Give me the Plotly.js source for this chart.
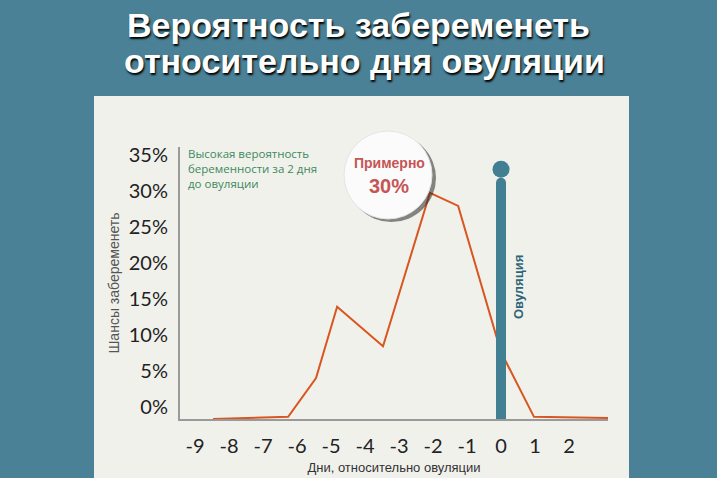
<!DOCTYPE html>
<html>
<head>
<meta charset="utf-8">
<script src="https://cdn.plot.ly/plotly-3.0.1.min.js"></script>
<style>html,body{margin:0;padding:0;background:#4a8196;}#chart{width:717px;height:478px;}</style>
</head>
<body>
<div id="chart"></div>
<script>
// Data (days relative to ovulation, chance of pregnancy in %)
const days = [-8.47, -6.26, -5.44, -4.82, -3.47, -2.09, -1.26, 0, 0.97, 3.15];
const chance = [0, 0.3, 5.7, 15.6, 10.1, 31.4, 29.6, 9.3, 0.3, 0.15];
const ovulationDay = [0, 0];
const ovulationBar = [0, 32.8];
const ovulationDot = [34.7];
const tickDays = [-9, -8, -7, -6, -5, -4, -3, -2, -1, 0, 1, 2];
const tickLabels = ['-9', '-8', '-7', '-6', '-5', '-4', '-3', '-2', '-1', '0', '1', '2'];
const yTicks = [0, 5, 10, 15, 20, 25, 30, 35];
const yTickLabels = ['0%', '5%', '10%', '15%', '20%', '25%', '30%', '35%'];

// plot area: left 180, right 608, top 147, bottom 419
const L = 180, R = 608, T = 147, B = 419, W = 717, H = 478;
const px = x => (x - L) / (R - L);
const py = y => (B - y) / (B - T);

const traces = [
  {x: days, y: chance, type: 'scatter', mode: 'lines',
   line: {color: '#d8561f', width: 2}, hoverinfo: 'skip'},
  {x: ovulationDay, y: ovulationBar, type: 'scatter', mode: 'lines',
   line: {color: '#437f93', width: 10}, hoverinfo: 'skip'},
  {x: [ovulationDay[1]], y: [ovulationBar[1]], type: 'scatter', mode: 'markers',
   marker: {color: '#437f93', size: 10}, hoverinfo: 'skip'},
  {x: [0], y: ovulationDot, type: 'scatter', mode: 'markers',
   marker: {color: '#437f93', size: 17}, hoverinfo: 'skip'}
];

const titleFont = {family: 'Liberation Sans, Arial', size: 34, color: '#ffffff', weight: 'bold',
                   shadow: '1px 2px 2px #000000'};

const layout = {
  width: W, height: H,
  paper_bgcolor: '#4a8196',
  plot_bgcolor: 'rgba(0,0,0,0)',
  margin: {l: L, r: W - R, t: T, b: H - B},
  showlegend: false,
  xaxis: {
    range: [(L - 501) / 34, (R - 501) / 34],
    tickmode: 'array', tickvals: tickDays, ticktext: tickLabels,
    showgrid: false, zeroline: false,
    showline: true, linecolor: '#9a9a9a', linewidth: 2,
    ticks: '', ticklabelstandoff: 8,
    tickfont: {family: 'Lato, Open Sans', size: 20, color: '#222222'},
    title: {text: 'Дни, относительно овуляции', standoff: 7,
            font: {family: 'Liberation Sans Narrow, Liberation Sans, Arial', size: 13, color: '#333333'}},
    fixedrange: true
  },
  yaxis: {
    range: [0, (B - T) / 7.2],
    tickmode: 'array', tickvals: yTicks, ticktext: yTickLabels,
    showgrid: false, zeroline: false,
    showline: true, linecolor: '#9a9a9a', linewidth: 2,
    ticks: '', ticklabelshift: -12, ticklabelstandoff: 6,
    tickfont: {family: 'Lato, Open Sans', size: 20, color: '#222222'},
    title: {text: 'Шансы забеременеть', standoff: 6,
            font: {family: 'Liberation Sans, Arial', size: 14, color: '#555555'}},
    fixedrange: true
  },
  shapes: [
    {type: 'rect', xref: 'paper', yref: 'paper', layer: 'below',
     x0: px(94), x1: px(629), y0: py(480), y1: py(96),
     fillcolor: '#f1f1ec', line: {width: 0}},
    {type: 'circle', xref: 'paper', yref: 'paper', layer: 'above',
     x0: px(347), x1: px(436), y0: py(222), y1: py(134),
     fillcolor: 'rgba(40,40,40,0.55)', line: {width: 0}},
    {type: 'circle', xref: 'paper', yref: 'paper', layer: 'above',
     x0: px(344), x1: px(432), y0: py(219), y1: py(131),
     fillcolor: '#fbfbfb', line: {color: '#e4e4e4', width: 1}}
  ],
  annotations: [
    {xref: 'paper', yref: 'paper', x: px(358), y: py(25), xanchor: 'center', yanchor: 'middle',
     showarrow: false, text: 'Вероятность забеременеть', font: titleFont},
    {xref: 'paper', yref: 'paper', x: px(364), y: py(61), xanchor: 'center', yanchor: 'middle',
     showarrow: false, text: 'относительно дня овуляции', font: titleFont},
    {xref: 'paper', yref: 'paper', x: px(186), y: py(144), xanchor: 'left', yanchor: 'top',
     align: 'left', showarrow: false,
     text: 'Высокая вероятность<br>беременности за 2 дня<br>до овуляции',
     font: {family: 'Open Sans, Noto Sans', size: 11.5, color: '#3c8a5c'}},
    {xref: 'paper', yref: 'paper', x: px(389), y: py(163), xanchor: 'center', yanchor: 'middle',
     showarrow: false, text: '<b>Примерно</b>',
     font: {family: 'Liberation Sans, Arial', size: 14, color: '#c55655'}},
    {xref: 'paper', yref: 'paper', x: px(389), y: py(186), xanchor: 'center', yanchor: 'middle',
     showarrow: false, text: '<b>30%</b>',
     font: {family: 'Liberation Sans, Arial', size: 20, color: '#c55655'}},
    {xref: 'paper', yref: 'paper', x: px(518), y: py(287), xanchor: 'center', yanchor: 'middle',
     showarrow: false, textangle: -90, text: '<b>Овуляция</b>',
     font: {family: 'Liberation Sans, Arial', size: 13, color: '#2c6578'}}
  ]
};

Plotly.newPlot('chart', traces, layout, {displayModeBar: false, staticPlot: true});
</script>
</body>
</html>
